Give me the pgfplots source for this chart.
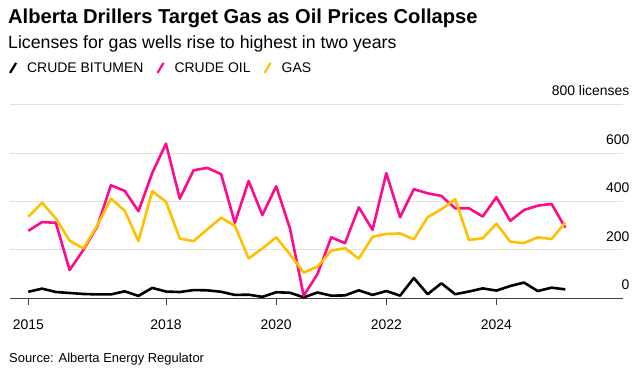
\documentclass[border=0pt]{standalone}
\usepackage{pgfplots}
\pgfplotsset{compat=1.18}
\usepackage{fontspec}
\setmainfont{Liberation Sans}
\definecolor{bpink}{HTML}{FF0A8C}
\definecolor{byellow}{HTML}{FFC000}
\definecolor{gridgray}{HTML}{E2E2E2}
\definecolor{axisgray}{HTML}{444444}
\pgfplotstableread{
i bit oil gas
0 27 279 337
1 40 315 395
2 26 312 330
3 22 117 238
4 18 200 206
5 16 296 300
6 16 467 412
7 29 444 362
8 10 360 236
9 43 518 443
10 28 639 399
11 26 412 247
12 34 529 236
13 33 539 285
14 27 513 333
15 14 312 300
16 15 485 165
17 6 344 206
18 25 463 252
19 23 289 182
20 4 11 106
21 24 100 131
22 11 252 197
23 12 228 207
24 33 376 164
25 14 283 254
26 30 517 266
27 11 335 268
28 84 451 244
29 17 434 335
30 62 423 368
31 17 372 410
32 28 372 241
33 41 338 248
34 32 418 308
35 51 320 234
36 65 365 228
37 30 383 252
38 44 390 245
39 37 292 313
}\data
\begin{document}
\begin{tikzpicture}[x=1bp,y=1bp]
\useasboundingbox (0,0) rectangle (641,-374);
\node[anchor=base west, inner sep=0, font=\bfseries\fontsize{20.2}{22}\selectfont] at (8,-23.3) {Alberta Drillers Target Gas as Oil Prices Collapse};
\node[anchor=base west, inner sep=0, font=\fontsize{17.8}{20}\selectfont] at (8,-48.3) {Licenses for gas wells rise to highest in two years};
\node[anchor=base west, inner sep=0, font=\fontsize{13}{15}\selectfont] at (9,-362.5) {Source: Alberta Energy Regulator};
\begin{axis}[
  at={(10bp,-298.3bp)}, anchor=south west,
  scale only axis, width=613bp, height=193.6bp,
  xmin=-1.33, xmax=43.19, ymin=0, ymax=800,
  clip=false,
  axis line style={draw=none},
  ytick={0,200,400,600,800},
  yticklabels={0,200,400,600,800 licenses},
  ymajorgrids,
  grid style={gridgray, line width=1bp},
  extra y ticks={0},
  extra y tick labels={},
  extra y tick style={grid style={axisgray, line width=1bp}},
  yticklabel pos=right,
  y tick label style={anchor=south east, inner sep=0pt, yshift=8.5bp, xshift=0bp, font=\fontsize{14}{16}\selectfont},
  ytick style={draw=none},
  xtick={0,10,18,26,34},
  xticklabels={2015,2018,2020,2022,2024},
  xtick pos=bottom,
  tick align=outside,
  major tick length=6.5bp,
  x tick style={axisgray, line width=0.9bp},
  x tick label style={anchor=base, inner sep=0pt, yshift=-25bp, font=\fontsize{14}{16}\selectfont},
  legend columns=3,
  legend style={at={(axis description cs:-0.002,1.19)}, anchor=west, draw=none, fill=none, inner sep=0pt,
    font=\fontsize{14}{16}\selectfont,
    /tikz/every odd column/.append style={column sep=8bp},
    /tikz/every even column/.append style={column sep=11bp}},
  legend image code/.code={\draw[#1, line width=2.2bp] (0bp,-5bp) -- (6bp,5bp);},
  every axis plot/.append style={line width=2.6bp, line join=round},
]
\addplot[black, mark=none] table[x=i, y=bit] {\data};
\addlegendentry{CRUDE BITUMEN}
\addplot[bpink, mark=none] table[x=i, y=oil] {\data};
\addlegendentry{CRUDE OIL}
\addplot[byellow, mark=none] table[x=i, y=gas] {\data};
\addlegendentry{GAS}
\end{axis}
\end{tikzpicture}
\end{document}
